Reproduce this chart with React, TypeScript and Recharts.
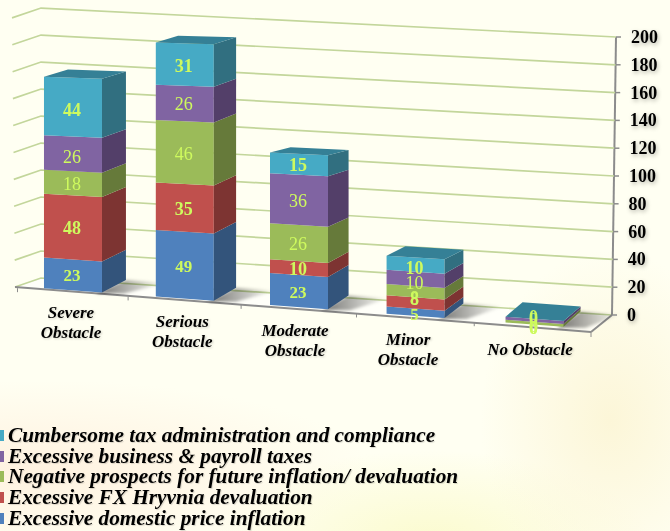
import { BarChart, Bar, XAxis, YAxis, CartesianGrid, LabelList, Legend } from "recharts";

const categories = ["Severe Obstacle", "Serious Obstacle", "Moderate Obstacle", "Minor Obstacle", "No Obstacle"];
const domesticInflation = [23, 49, 23, 5, 0];
const fxDevaluation = [48, 35, 10, 8, 0];
const negativeProspects = [18, 46, 26, 8, 2];
const payrollTaxes = [26, 26, 36, 10, 2];
const taxAdministration = [44, 31, 15, 10, 0];
const yTicks = [0, 20, 40, 60, 80, 100, 120, 140, 160, 180, 200];

const seriesNames = [
  "Excessive domestic price inflation",
  "Excessive FX Hryvnia devaluation",
  "Negative prospects for future inflation/ devaluation",
  "Excessive business & payroll taxes",
  "Cumbersome tax administration and compliance",
];
const seriesValues = [domesticInflation, fxDevaluation, negativeProspects, payrollTaxes, taxAdministration];
const frontColors = ["#4F81BD", "#C0504D", "#9BBB59", "#8064A2", "#46AAC5"];
const sideColors = ["#33547B", "#7D3432", "#667A3A", "#533F69", "#316F80"];
const labelSizes = [17, 18, 18, 18, 18];
const labelWeights = ["bold", "bold", "normal", "normal", "bold"];
// hand placed labels in the last two columns, as in the picture
const labelNudges = [
  [0, 0, 0, 1, 3],
  [0, 0, 0, -5, 2],
  [0, 0, 0, 5, 2],
  [2, 0, 0, 3, -1],
  [2, 0, 0, 2, -3],
];

const data = categories.map((name, i) => {
  const row: Record<string, string | number> = { name };
  seriesNames.forEach((s, j) => {
    row[s] = seriesValues[j][i];
  });
  return row;
});

const FONT = '"Liberation Serif", serif';
const LABEL_COLOR = "#CEFA5E";
const GRID_COLOR = "#C3D69B";
const AXIS_COLOR = "#8C8C8C";
const PLOT_TOP = 37;
const PLOT_BOTTOM = 315;

// the flat plot area is bent into the perspective of the picture
const warpX = (x: number) => {
  const u = (x - 72.5) / 460;
  return x + 19 * u * u - 17.5 * u;
};
const floorY = (x: number) => 286 + 0.0745 * (x - 15);
const frontY = (x: number, plotY: number) =>
  floorY(x) - (PLOT_BOTTOM - plotY) * ((1.33 + (x - 44) * 0.00025) / 1.39);
const depthX = (x: number) => 24 - (x - 100) * 0.015;
const depthY = (x: number, h: number) =>
  -12.5 - (x - 100) * 0.006 + h * (0.024 + Math.max(0, x - 213) * 0.00028);
const axisX = (h: number) => 612 + (h / 278) * 4;

const pts = (list: number[][]) => list.map((p) => p.join(",")).join(" ");

function GridLine(props: any) {
  const { y1, index } = props;
  const h = PLOT_BOTTOM - y1;
  const backLeft = [41, 278 - h * 0.971];
  const backRight = [axisX(h), y1];
  const frontLeft = [15 - (h / 278) * 3, 287 - h * 0.968];
  const isFloor = h < 1;
  return (
    <g key={`grid-${index}-${y1}`}>
      {isFloor && <polygon points={pts([[15, 287], [41, 278], [612, 315], [591, 332]])} fill="#FFFFFF" fillOpacity={0.55} />}
      <polyline points={pts([frontLeft, backLeft, backRight])} fill="none" stroke={GRID_COLOR} strokeWidth={1.7} />
      {isFloor && (
        <g fill="none" stroke={AXIS_COLOR} strokeWidth={2}>
          <line x1={15} y1={287} x2={591} y2={332} />
          <line x1={591} y1={332} x2={612} y2={315} />
          <line x1={612} y1={315} x2={616} y2={PLOT_TOP} />
        </g>
      )}
    </g>
  );
}

function YTick(props: any) {
  const { y, payload } = props;
  const h = PLOT_BOTTOM - y;
  const ax = axisX(h);
  return (
    <g>
      <line x1={ax} y1={y} x2={ax + 5} y2={y} stroke={AXIS_COLOR} strokeWidth={1.5} />
      <text
        x={627 + (h / 278) * 4}
        y={y}
        dominantBaseline="central"
        fontFamily={FONT}
        fontWeight="bold"
        fontSize={18}
        fill="#000"
        style={{ filter: "drop-shadow(1px 2px 2px rgba(0,0,0,0.3))" }}
      >
        {payload.value}
      </text>
    </g>
  );
}

function XTick(props: any) {
  const { x, payload, index } = props;
  const cx = warpX(x) - [1.5, 2, 3.5, 7, 4][index];
  const words = String(payload.value).split(" ");
  const lines = words[0] === "No" ? [payload.value] : words;
  const top = 318 + index * 8.9 + (words[0] === "No" ? 1 : 0);
  const half = 57.5;
  return (
    <g>
      <line x1={warpX(x - half)} y1={floorY(warpX(x - half)) + 2} x2={warpX(x - half)} y2={floorY(warpX(x - half)) + 6} stroke={AXIS_COLOR} />
      {index === 4 && (
        <line x1={591} y1={332} x2={591} y2={337} stroke={AXIS_COLOR} />
      )}
      {lines.map((line: string, i: number) => (
        <text
          key={line}
          x={cx}
          y={top + i * 20}
          textAnchor="middle"
          fontFamily={FONT}
          fontStyle="italic"
          fontWeight="bold"
          fontSize={17}
          fill="#000"
          style={{ filter: "drop-shadow(1px 1px 1px rgba(0,0,0,0.2))" }}
        >
          {line}
        </text>
      ))}
    </g>
  );
}

function Block(props: any) {
  const { x, y, width, height, fill, side, isBase, isTop } = props;
  const xl = warpX(x + width / 2) - width / 2;
  const xr = xl + width;
  const hTop = PLOT_BOTTOM - y;
  const hBottom = PLOT_BOTTOM - (y + height);
  const tl = [xl, frontY(xl, y)];
  const tr = [xr, frontY(xr, y)];
  const bl = [xl, frontY(xl, y + height)];
  const br = [xr, frontY(xr, y + height)];
  const dx = depthX(xr);
  const btr = [xr + dx, tr[1] + depthY(xr, hTop)];
  const bbr = [xr + dx, br[1] + depthY(xr, hBottom)];
  const btl = [xl + dx, tl[1] + depthY(xr, hTop)];
  return (
    <g>
      {isBase && (
        <polygon
          points={pts([[xr - 6, br[1] + 1], [xr + dx, bbr[1]], [xr + dx + 40, bbr[1] + 3], [xr + 22, br[1] + 1]])}
          fill="url(#floorShadow)"
          filter="url(#softBlur)"
        />
      )}
      <polygon points={pts([tl, tr, br, bl])} fill={fill} />
      <polygon points={pts([tr, btr, bbr, br])} fill={side} />
      {isTop && <polygon points={pts([tl, btl, btr, tr])} fill="#358096" />}
    </g>
  );
}

function ValueLabel(props: any) {
  const { value, index, seriesIndex } = props;
  const box = props.viewBox ?? props;
  const cx = warpX(box.x + box.width / 2);
  const mid = (frontY(cx, box.y) + frontY(cx, box.y + box.height)) / 2;
  return (
    <text
      x={cx - 1}
      y={mid + labelNudges[seriesIndex][index] + 1}
      textAnchor="middle"
      dominantBaseline="central"
      fontFamily={FONT}
      fontSize={labelSizes[seriesIndex]}
      fontWeight={labelWeights[seriesIndex]}
      fill={LABEL_COLOR}
    >
      {value < 3 ? 0 : value}
    </text>
  );
}

function LegendList({ payload }: any) {
  // top series first, like the stack
  const items = [...(payload ?? [])].sort((a: any, b: any) => seriesNames.indexOf(b.value) - seriesNames.indexOf(a.value));
  return (
    <div>
      {items.map((item: any) => (
        <div
          key={item.value}
          style={{
            position: "relative",
            height: 20.7,
            lineHeight: "20.7px",
            paddingLeft: 8,
            fontFamily: FONT,
            fontStyle: "italic",
            fontWeight: "bold",
            fontSize: 21.3,
            color: "#000",
            whiteSpace: "nowrap",
            textShadow: "1px 1px 1px rgba(0,0,0,0.15)",
          }}
        >
          <span style={{ position: "absolute", left: 0, top: 5, width: 4, height: 11, background: item.color }} />
          {item.value}
        </div>
      ))}
    </div>
  );
}

export default function App() {
  return (
    <div
      style={{
        position: "absolute",
        left: 0,
        top: 0,
        width: 670,
        height: 531,
        overflow: "hidden",
        background:
          "radial-gradient(ellipse 130px 170px at 610px 420px, #FCF6D8 0%, rgba(252,246,216,0) 100%), radial-gradient(ellipse 220px 90px at 430px 540px, #FBFBCF 0%, rgba(251,251,207,0) 100%), radial-gradient(ellipse 330px 90px at 40px 470px, #FFF2E0 0%, rgba(255,242,224,0) 100%), #FFFFF2",
      }}
    >
      <div style={{ filter: "blur(0.35px)" }}>
        <BarChart
          width={670}
          height={531}
          data={data}
          barSize={58}
          margin={{ top: PLOT_TOP, right: 0, bottom: 186, left: 15 }}
        >
          <defs>
            <linearGradient id="floorShadow" x1="0" y1="0" x2="1" y2="0">
              <stop offset="0%" stopColor="#000" stopOpacity={0.55} />
              <stop offset="100%" stopColor="#000" stopOpacity={0} />
            </linearGradient>
            <filter id="softBlur" x="-20%" y="-50%" width="140%" height="200%">
              <feGaussianBlur stdDeviation="1.5" />
            </filter>
          </defs>
          <CartesianGrid vertical={false} horizontal={(p: any) => <GridLine {...p} />} />
          <XAxis dataKey="name" height={30} axisLine={false} tickLine={false} interval={0} tick={(p: any) => <XTick {...p} />} />
          <YAxis
            orientation="right"
            width={80}
            domain={[0, 200]}
            ticks={yTicks}
            interval={0}
            axisLine={false}
            tickLine={false}
            tick={(p: any) => <YTick {...p} />}
          />
          <Legend
            layout="horizontal"
            verticalAlign="middle"
            align="center"
            wrapperStyle={{ position: "absolute", left: 0, top: 425, width: 520 }}
            content={(p: any) => <LegendList {...p} />}
          />
          {seriesNames.map((s, j) => (
            <Bar
              key={s}
              dataKey={s}
              stackId="a"
              fill={frontColors[j]}
              isAnimationActive={false}
              shape={(p: any) => <Block {...p} side={sideColors[j]} isBase={j === 0} isTop={j === seriesNames.length - 1} />}
            >
              <LabelList dataKey={s} content={(p: any) => <ValueLabel {...p} seriesIndex={j} />} />
            </Bar>
          ))}
        </BarChart>
      </div>
    </div>
  );
}
